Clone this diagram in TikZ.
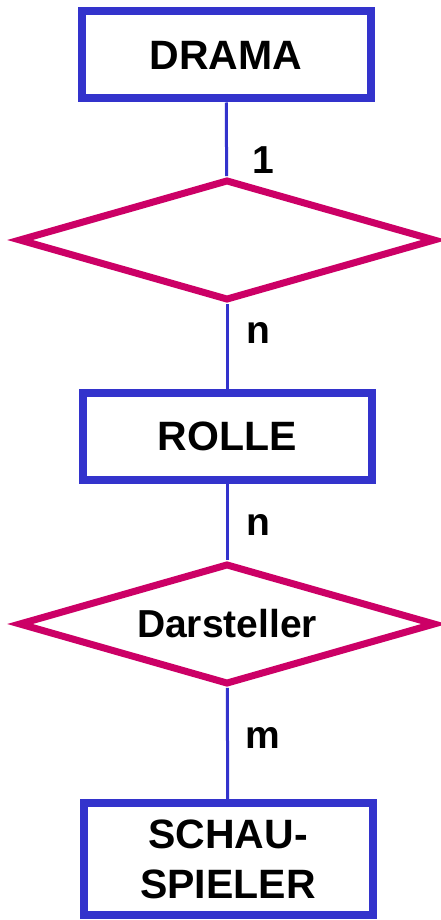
\documentclass[tikz,border=0pt]{standalone}
\usepackage{fontspec}
\setmainfont{Liberation Sans}
\usetikzlibrary{shapes.geometric}
\definecolor{entblue}{HTML}{3333CC}
\definecolor{relred}{HTML}{CC0066}
\begin{document}
\begin{tikzpicture}[x=1pt,y=-1pt]
				\tikzstyle{Entity} = [rectangle, draw=entblue, line width=8pt, minimum width=289, minimum height=87, inner sep=0pt, align=center, font=\fontsize{41}{50}\selectfont\bfseries]
				\tikzstyle{Relation} = [diamond, draw=relred, line width=7pt, shape aspect=3.45, minimum width=417, minimum height=121, inner sep=0pt, font=\fontsize{39}{44}\selectfont\bfseries]
				\tikzstyle{Card} = [font=\fontsize{39}{44}\selectfont\bfseries]
				\useasboundingbox (0,0) rectangle (441,920);
				\node (drama) at (226,55) [Entity, fill=white] {DRAMA};
				\node (r1) at (227,240) [Relation, fill=white] {};
				\node (rolle) at (227,436) [Entity, fill=white] {ROLLE};
				\node (darst) at (227,624) [Relation, fill=white] {Darsteller};
				\node (schau) at (228,859) [Entity, minimum height=112, fill=white] {SCHAU-\\SPIELER};
				\node (c1) at (263,160) [Card] {1};
				\node (c2) at (258,333) [Card] {n};
				\node (c3) at (258,525) [Card] {n};
				\node (c4) at (263,738) [Card] {m};
				\draw [entblue, line width=3pt] [-] (drama) to (r1);
				\draw [entblue, line width=3pt] [-] (r1) to (rolle);
				\draw [entblue, line width=3pt] [-] (rolle) to (darst);
				\draw [entblue, line width=3pt] [-] (darst) to (schau);
			\end{tikzpicture}
\end{document}
